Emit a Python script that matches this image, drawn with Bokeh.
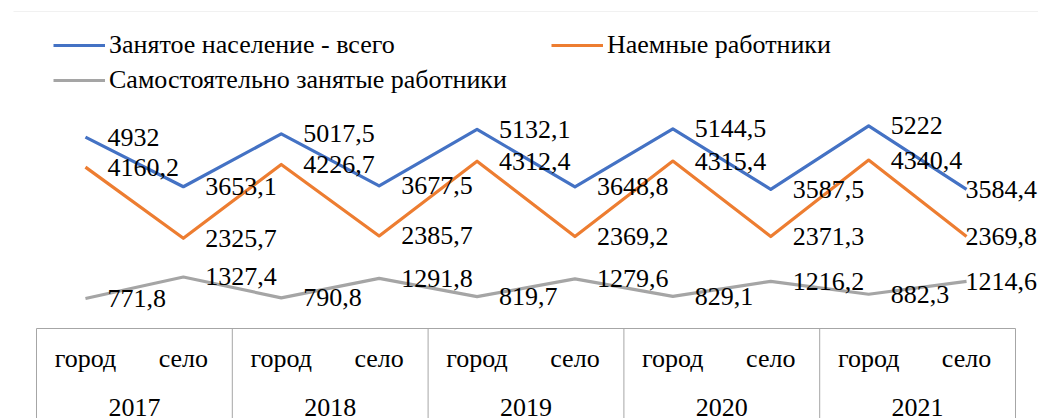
from bokeh.plotting import figure
from bokeh.models import FactorRange, Range1d, ColumnDataSource, Legend, LegendItem, BoxAnnotation
from bokeh.core.properties import value
from bokeh.embed import file_html
from bokeh.resources import INLINE

# ---- data ----
years = ["2017", "2018", "2019", "2020", "2021"]
places = ["город", "село"]
total = [4932, 3653.1, 5017.5, 3677.5, 5132.1, 3648.8, 5144.5, 3587.5, 5222, 3584.4]
hired = [4160.2, 2325.7, 4226.7, 2385.7, 4312.4, 2369.2, 4315.4, 2371.3, 4340.4, 2369.8]
self_employed = [771.8, 1327.4, 790.8, 1291.8, 819.7, 1279.6, 829.1, 1216.2, 882.3, 1214.6]
series_names = ["Занятое население - всего", "Наемные работники", "Самостоятельно занятые работники"]
colors = ["#4472C4", "#ED7D31", "#A5A5A5"]

FONT = "Liberation Serif"
FS = "26px"

factors = [(y, pl) for y in years for pl in places]


def fmt(v):
    return str(int(v)) if float(v).is_integer() else f"{v:.1f}".replace(".", ",")


# ---- geometry ----
W, H = 1038, 418
ML, MT = 13, 11
frame_w = W - ML
frame_h = H - MT
px_per_cat = 97.9
pad_frac = (frame_w / px_per_cat - len(factors)) / len(factors)
units_per_px = 1 / 0.0388
zero_from_top = 317
y_end = zero_from_top * units_per_px
y_start = -(frame_h - zero_from_top) * units_per_px

x_range = FactorRange(*factors, factor_padding=0, group_padding=0, subgroup_padding=0,
                      range_padding=pad_frac, range_padding_units="percent")

p = figure(x_range=x_range, y_range=Range1d(y_start, y_end), width=W, height=H,
           min_border_left=ML, min_border_right=0, min_border_top=MT, min_border_bottom=0,
           toolbar_location=None, output_backend="svg",
           x_axis_location=None, y_axis_location=None)
p.grid.grid_line_color = None
p.outline_line_color = None
p.background_fill_color = "white"
p.border_fill_color = "white"

# chart border (left & top)
left_syn = -pad_frac * len(factors) / 2 - 6 / px_per_cat
p.add_layout(BoxAnnotation(left=left_syn, right=left_syn + 30, top=y_end, bottom=y_start - 5000,
                           fill_alpha=0, line_color="#A0A0A0", line_width=1))

# category table
edges = [(y, places[0], -0.5) for y in years] + [(years[-1], places[-1], 0.5)]
p.segment(x0=edges, y0=[0] * len(edges), x1=edges, y1=[y_start - 500] * len(edges),
          line_color="#A6A6A6", line_width=1)
p.segment(x0=[edges[0]], y0=[0], x1=[edges[-1]], y1=[0], line_color="#A6A6A6", line_width=1)

# series lines
renderers = []
for vals, col in zip([total, hired, self_employed], colors):
    r = p.line(x=factors, y=vals, line_color=col, line_width=3.2, line_join="round")
    renderers.append(r)

# data labels (the last label in each series is pulled left to stay inside the chart, as in the original)
label_dx = [22] * (len(factors) - 1) + [-1]
for vals in [total, hired, self_employed]:
    src = ColumnDataSource(dict(x=factors, y=vals, t=[fmt(v) for v in vals], dx=label_dx))
    p.text(x="x", y="y", text="t", source=src, x_offset="dx", text_align="left",
           text_baseline="middle", text_font=value(FONT), text_font_size=FS, text_color="black")

# category labels
p.text(x=factors, y=[0] * len(factors), text=[f[1] for f in factors], y_offset=30,
       text_align="center", text_baseline="middle", text_font=value(FONT), text_font_size=FS,
       text_color="black")
p.text(x=years, y=[0] * len(years), text=years, y_offset=79,
       text_align="center", text_baseline="middle", text_font=value(FONT), text_font_size=FS,
       text_color="black")

legend = Legend(items=[LegendItem(label=n, renderers=[r]) for n, r in zip(series_names, renderers)],
                location=(40, 323), orientation="horizontal", nrows=2,
                glyph_width=52, glyph_height=30, label_height=30, label_standoff=4,
                label_width=437, spacing=5, padding=0, margin=0,
                border_line_color=None, background_fill_alpha=0,
                label_text_font=FONT, label_text_font_size=FS, label_text_color="black")
p.add_layout(legend)

open("out.html", "w").write(file_html(p, INLINE))
